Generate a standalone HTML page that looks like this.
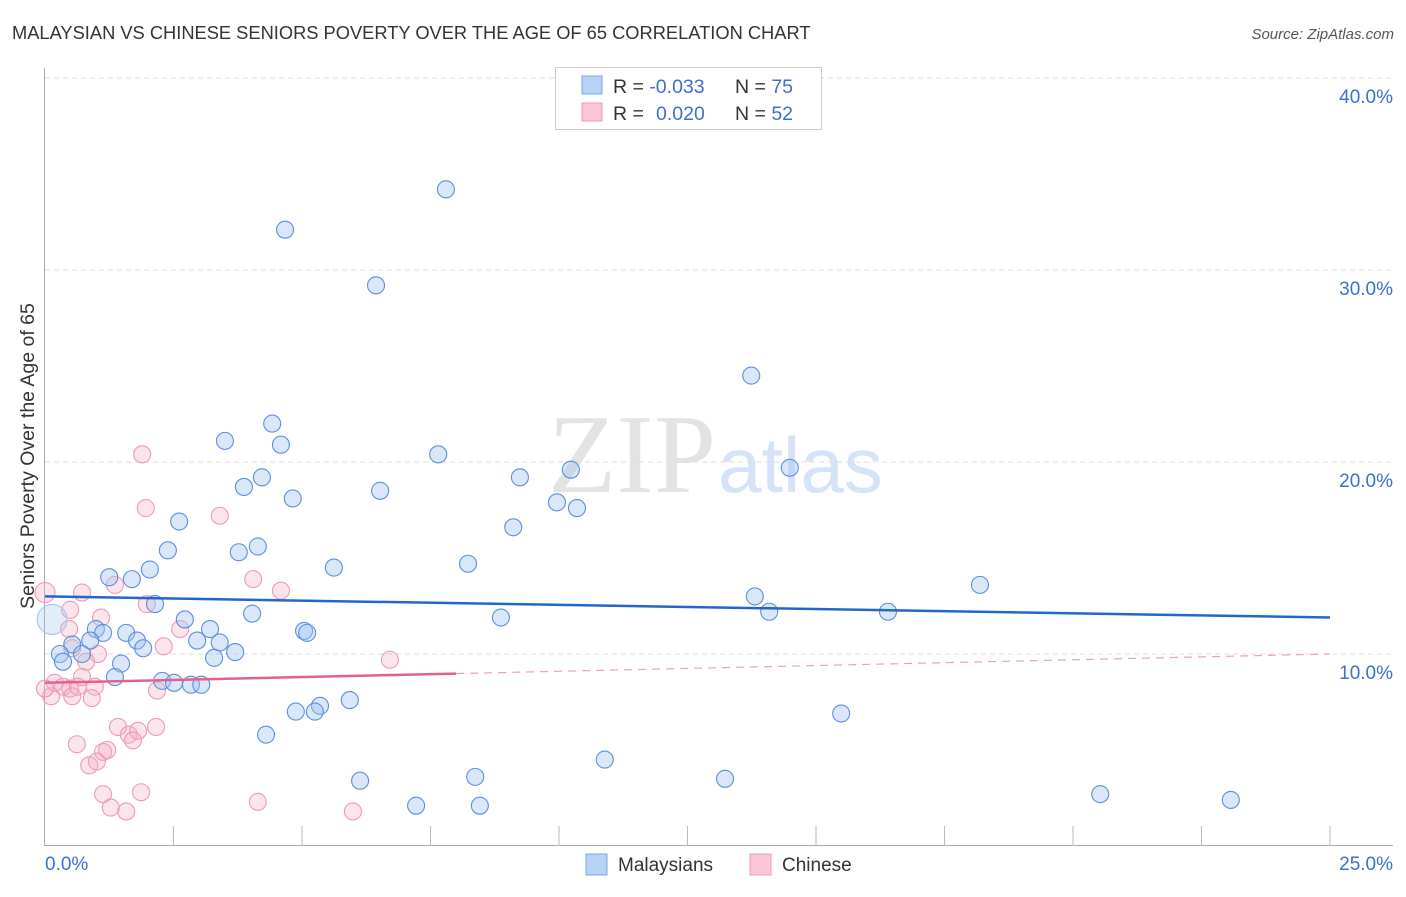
<!DOCTYPE html>
<html><head><meta charset="utf-8"><style>
body{margin:0;background:#fff;font-family:"Liberation Sans",sans-serif}
</style></head><body>
<svg id="c" width="1406" height="892" xmlns="http://www.w3.org/2000/svg">
<text x="12" y="39" font-size="18.3" fill="#333">MALAYSIAN VS CHINESE SENIORS POVERTY OVER THE AGE OF 65 CORRELATION CHART</text>
<text x="1394" y="39" font-size="15" fill="#555" font-style="italic" text-anchor="end">Source: ZipAtlas.com</text>
<text x="716" y="492" font-size="112" fill="#e3e3e3" text-anchor="end" font-family="Liberation Serif,serif">ZIP</text>
<text x="718" y="492" font-size="78" fill="#d6e2f5">atlas</text>
<g id="grid"></g><g id="axes"></g><g id="pts"></g><g id="trend"></g>
<text transform="translate(34,456) rotate(-90)" font-size="19.5" fill="#333" text-anchor="middle">Seniors Poverty Over the Age of 65</text>
<g>
<rect x="555.5" y="67.5" width="266" height="62" fill="#fff" stroke="#ccc"/>
<rect x="582" y="76" width="20" height="18" fill="#b8d2f5" stroke="#7aa6e6"/>
<rect x="582" y="103" width="20" height="18" fill="#fbc7d6" stroke="#f09ab4"/>
<text x="613" y="93" font-size="19.5" fill="#333">R = <tspan fill="#3d6fcf">-0.033</tspan><tspan x="735">N = </tspan><tspan fill="#3d6fcf">75</tspan></text>
<text x="613" y="120" font-size="19.5" fill="#333">R = <tspan x="656" fill="#3d6fcf">0.020</tspan><tspan x="735">N = </tspan><tspan fill="#3d6fcf">52</tspan></text>
</g>
<g>
<rect x="586" y="854" width="21" height="21" fill="#b8d2f5" stroke="#7aa6e6"/>
<text x="618" y="871" font-size="19" fill="#333">Malaysians</text>
<rect x="750" y="854" width="21" height="21" fill="#fbc7d6" stroke="#f09ab4"/>
<text x="782" y="871" font-size="19" fill="#333">Chinese</text>
</g>
</svg>
<script>
const yTicks=[10,20,30,40];
const yTickLabels=["10.0%","20.0%","30.0%","40.0%"];
const xTickVals=[0,2.5,5,7.5,10,12.5,15,17.5,20,22.5,25];
const blueX=[7.80,4.67,6.44,13.74,4.42,3.50,4.59,7.65,14.49,10.23,4.22,9.24,3.87,6.52,4.82,9.96,10.35,2.61,9.11,4.14,2.39,3.77,8.23,5.62,2.04,1.69,1.25,18.19,13.81,2.14,14.09,16.40,4.03,2.72,8.87,0.99,3.21,1.58,1.13,5.04,5.10,1.79,2.96,3.40,0.88,0.53,1.91,0.14,0.29,0.72,3.70,3.29,0.35,1.48,1.36,2.28,2.51,2.84,3.04,4.88,5.35,5.25,5.93,15.49,4.30,10.89,6.13,8.37,13.23,20.53,23.07,7.22,8.46];
const blueY=[34.2,32.1,29.2,24.5,22.0,21.1,20.9,20.4,19.7,19.6,19.2,19.2,18.7,18.5,18.1,17.9,17.6,16.9,16.6,15.6,15.4,15.3,14.7,14.5,14.4,13.9,14.0,13.6,13.0,12.6,12.2,12.2,12.1,11.8,11.9,11.3,11.3,11.1,11.1,11.2,11.1,10.7,10.7,10.6,10.7,10.5,10.3,11.8,10.0,10.0,10.1,9.8,9.6,9.5,8.8,8.6,8.5,8.4,8.4,7.0,7.3,7.0,7.6,6.9,5.8,4.5,3.4,3.6,3.5,2.7,2.4,2.1,2.1];
const pinkX=[1.89,1.96,3.40,4.05,1.36,0.00,0.72,4.59,1.98,0.49,1.09,2.63,0.47,0.53,2.31,1.03,0.80,6.71,0.72,0.19,0.35,0.49,0.64,0.97,2.18,0.53,0.12,0.91,1.42,2.16,1.63,1.81,1.71,0.62,1.21,1.13,0.86,1.01,1.13,1.87,1.28,1.58,4.14,5.99,0.00];
const pinkY=[20.4,17.6,17.2,13.9,13.6,13.2,13.2,13.3,12.6,12.3,11.9,11.3,11.3,10.3,10.4,10.0,9.6,9.7,8.8,8.5,8.3,8.2,8.3,8.3,8.1,7.8,7.8,7.7,6.2,6.2,5.8,6.0,5.5,5.3,5.0,4.9,4.2,4.4,2.7,2.8,2.0,1.8,2.3,1.8,8.2];
const blueTrend=[13.0,11.9]; // y at x=0 and x=25
const pinkTrend=[8.5,10.0];
const pinkSolidEnd=8.0;
const NS="http://www.w3.org/2000/svg";
const X0=45,X1=1330,Y0=846,YPER=19.2;
const sx=v=>X0+v*(X1-X0)/25, sy=v=>Y0-v*YPER;
function mk(parent,tag,attrs){const e=document.createElementNS(NS,tag);for(const k in attrs)e.setAttribute(k,attrs[k]);document.getElementById(parent).appendChild(e);return e;}
yTicks.forEach((t,i)=>{
 const g=mk('grid','line',{x1:X0,x2:1392,y1:sy(t),y2:sy(t),stroke:'#dcdcdc','stroke-dasharray':'5,4'});
 
 
 const l=mk('grid','text',{x:1393,y:sy(t)+25,'font-size':19,fill:'#3d6fcf','text-anchor':'end'});
 l.textContent=yTickLabels[i];
 
 
});
const ax=mk('axes','line',{x1:X0-0.5,x2:X0-0.5,y1:68,y2:Y0,stroke:'#aaa'});


const bx=mk('axes','line',{x1:X0-1,x2:1393,y1:Y0-0.5,y2:Y0-0.5,stroke:'#aaa'});


xTickVals.slice(1).forEach(v=>{
 const t=mk('axes','line',{x1:sx(v),x2:sx(v),y1:826,y2:Y0,stroke:'#bbb'});
 
 
});
const xl=mk('axes','text',{x:45,y:870,'font-size':19,fill:'#3d6fcf'});xl.textContent='0.0%';


const xr=mk('axes','text',{x:1393,y:870,'font-size':19,fill:'#3d6fcf','text-anchor':'end'});xr.textContent='25.0%';


pinkX.forEach((v,i)=>{
 const c=mk('pts','circle',{cx:sx(v),cy:sy(pinkY[i]),r:(i==5?10:8.5),fill:'rgba(247,170,195,0.32)',stroke:'#ee9ab5','stroke-width':1.1});
 
 
});
blueX.forEach((v,i)=>{
 const c=mk('pts','circle',{cx:sx(v),cy:sy(blueY[i]),r:(i==47?15:8.5),fill:(i==47?'rgba(160,195,240,0.3)':'rgba(160,195,240,0.4)'),stroke:(i==47?'#a8c4ec':'#5b8fdc'),'stroke-width':1.1});
 
 
});
const bt=mk('trend','line',{x1:sx(0),y1:sy(blueTrend[0]),x2:sx(25),y2:sy(blueTrend[1]),stroke:'#2266cc','stroke-width':2.5});


const pe=pinkTrend[0]+(pinkTrend[1]-pinkTrend[0])*pinkSolidEnd/25;
const pt=mk('trend','line',{x1:sx(0),y1:sy(pinkTrend[0]),x2:sx(pinkSolidEnd),y2:sy(pe),stroke:'#e8608a','stroke-width':2.5});


const pd=mk('trend','line',{x1:sx(pinkSolidEnd),y1:sy(pe),x2:sx(25),y2:sy(pinkTrend[1]),stroke:'#eea0b8','stroke-width':1.2,'stroke-dasharray':'8,6'});


</script>
</body></html>
